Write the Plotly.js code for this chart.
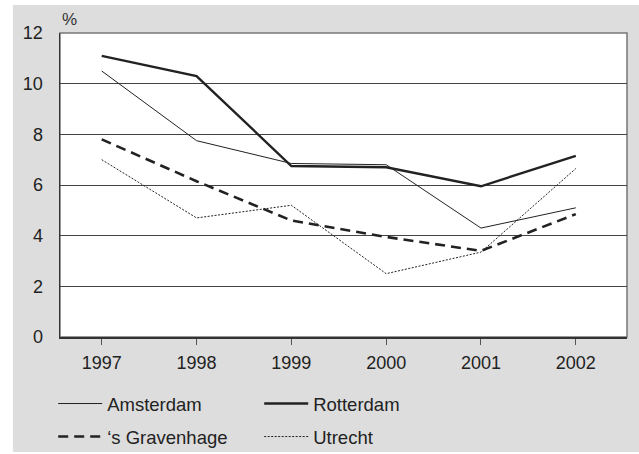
<!DOCTYPE html>
<html>
<head>
<meta charset="utf-8">
<script src="https://cdn.plot.ly/plotly-3.0.1.min.js"></script>
<style>html,body{margin:0;padding:0;background:#fff;}#chart{width:639px;height:454px;}</style>
</head>
<body>
<div id="chart"></div>
<script>
var years = [1997, 1998, 1999, 2000, 2001, 2002];
var amsterdam = [10.5, 7.75, 6.85, 6.8, 4.3, 5.1];
var rotterdam = [11.1, 10.3, 6.75, 6.7, 5.95, 7.15];
var gravenhage = [7.8, 6.15, 4.6, 3.95, 3.4, 4.85];
var utrecht = [7.0, 4.7, 5.2, 2.5, 3.35, 6.65];
var yTicks = [0, 2, 4, 6, 8, 10, 12];

var font = 'Liberation Sans, Arial, sans-serif';
var ink = '#222';

var traces = [
  {x: years, y: amsterdam, name: 'Amsterdam', mode: 'lines', line: {color: ink, width: 1}, legend: 'legend'},
  {x: years, y: rotterdam, name: 'Rotterdam', mode: 'lines', line: {color: ink, width: 2.4}, legend: 'legend'},
  {x: years, y: gravenhage, name: '\u2018s Gravenhage', mode: 'lines', line: {color: ink, width: 2.6, dash: '10px,6px'}, legend: 'legend2'},
  {x: years, y: utrecht, name: 'Utrecht', mode: 'lines', line: {color: ink, width: 1, dash: '2px,1.5px'}, legend: 'legend2'}
];

var legendCommon = {
  orientation: 'h', xanchor: 'left', yanchor: 'middle',
  bgcolor: 'rgba(0,0,0,0)', borderwidth: 0,
  font: {family: font, size: 18.5, color: ink},
  itemwidth: 44, entrywidth: 147, itemclick: false, itemdoubleclick: false
};

var layout = {
  width: 639, height: 454,
  margin: {l: 60, r: 12, t: 33, b: 117, pad: 0, autoexpand: false},
  paper_bgcolor: '#ffffff',
  plot_bgcolor: '#ffffff',
  font: {family: font, size: 18, color: ink},
  showlegend: true,
  legend: Object.assign({x: -0.012, y: -0.2204}, legendCommon),
  legend2: Object.assign({x: -0.012, y: -0.329}, legendCommon),
  xaxis: {
    range: [1996.56, 2002.54],
    tickvals: years, ticktext: years.map(String),
    ticks: 'outside', ticklen: 6, tickcolor: '#555', tickwidth: 1,
    showline: true, linecolor: '#333', linewidth: 1.5,
    showgrid: false, zeroline: false,
    tickfont: {family: font, size: 18, color: ink},
    ticklabelstandoff: 3
  },
  yaxis: {
    range: [0, 12],
    tickvals: yTicks,
    ticks: '', showline: true, linecolor: '#333', linewidth: 1.5,
    showgrid: true, gridcolor: '#444', gridwidth: 1,
    zeroline: false,
    tickfont: {family: font, size: 18, color: ink},
    ticklabelstandoff: 12
  },
  shapes: [
    {type: 'rect', xref: 'paper', yref: 'paper', x0: -0.083, x1: 1.03, y0: -0.378, y1: 1.092,
     fillcolor: '#dddddd', line: {width: 0}, layer: 'below'},
    {type: 'rect', xref: 'x domain', yref: 'y domain', x0: 0, x1: 1, y0: 0, y1: 1,
     fillcolor: '#ffffff', line: {color: '#777', width: 1.5}, layer: 'below'}
  ],
  annotations: [
    {text: '%', xref: 'paper', yref: 'paper', x: 0.0, y: 1.005, xanchor: 'left', yanchor: 'bottom',
     showarrow: false, font: {family: font, size: 17, color: '#333'}}
  ]
};

Plotly.newPlot('chart', traces, layout, {staticPlot: true, displayModeBar: false});
</script>
</body>
</html>
